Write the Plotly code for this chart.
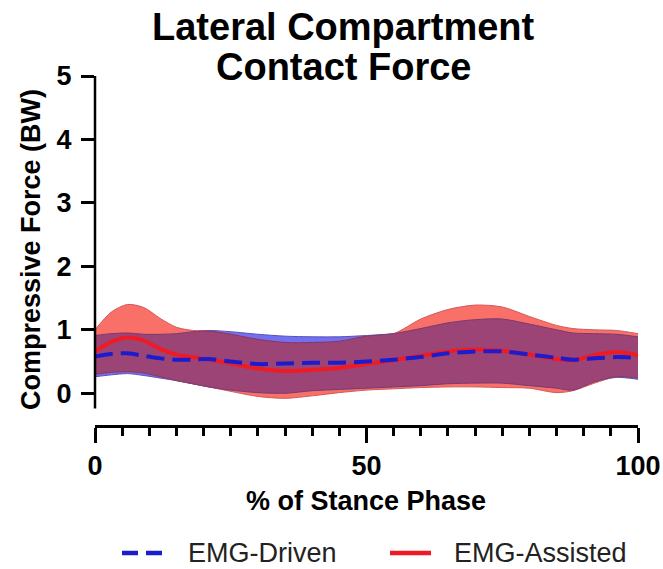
import plotly.graph_objects as go

# % of stance phase
stance = [0, 3, 6, 9, 12, 15, 18, 21, 25, 30, 35, 40, 45, 50,
          55, 60, 65, 70, 75, 80, 85, 88, 92, 96, 100]

# EMG-Driven lateral contact force (BW): mean and ±SD envelope
driven_mean = [0.58, 0.62, 0.63, 0.59, 0.55, 0.53, 0.53, 0.54, 0.50, 0.46, 0.47, 0.48, 0.48, 0.50,
               0.53, 0.57, 0.63, 0.66, 0.66, 0.61, 0.56, 0.53, 0.55, 0.57, 0.56]
driven_upper = [0.91, 0.94, 0.95, 0.93, 0.93, 0.94, 0.97, 0.99, 0.97, 0.93, 0.90, 0.89, 0.89, 0.91,
                0.94, 1.02, 1.11, 1.16, 1.17, 1.09, 1.00, 0.95, 0.94, 0.93, 0.89]
driven_lower = [0.26, 0.29, 0.31, 0.28, 0.24, 0.20, 0.15, 0.10, 0.05, 0.01, 0.00, 0.04, 0.06, 0.08,
                0.10, 0.12, 0.15, 0.16, 0.16, 0.12, 0.08, 0.05, 0.18, 0.25, 0.22]

# EMG-Assisted lateral contact force (BW): mean and ±SD envelope
assisted_mean = [0.66, 0.81, 0.88, 0.83, 0.70, 0.61, 0.57, 0.53, 0.47, 0.39, 0.35, 0.37, 0.40, 0.46,
                 0.52, 0.59, 0.66, 0.69, 0.67, 0.61, 0.54, 0.52, 0.60, 0.65, 0.60]
assisted_upper = [1.00, 1.28, 1.40, 1.35, 1.18, 1.04, 0.99, 0.98, 0.93, 0.85, 0.80, 0.80, 0.82, 0.90,
                  0.94, 1.17, 1.32, 1.39, 1.36, 1.21, 1.07, 1.02, 1.00, 0.99, 0.94]
assisted_lower = [0.30, 0.33, 0.34, 0.32, 0.26, 0.20, 0.15, 0.10, 0.03, -0.05, -0.08, -0.04, 0.01, 0.05,
                  0.07, 0.09, 0.10, 0.10, 0.09, 0.08, 0.01, 0.04, 0.16, 0.26, 0.24]

x_ticks = [0, 50, 100]
y_ticks = [0, 1, 2, 3, 4, 5]

FONT = "Liberation Sans, Arial, sans-serif"
BLUE_FILL = "#7070f0"
RED_FILL = "#f87068"
OVERLAP_FILL = "#9c4476"
BLUE_LINE = "#1c1ccc"
RED_LINE = "#ee1b24"

# region where both envelopes overlap
overlap_upper = [min(a, b) for a, b in zip(driven_upper, assisted_upper)]
overlap_lower = [max(a, b) for a, b in zip(driven_lower, assisted_lower)]

fig = go.Figure()


def band(lower, upper, fill, edge):
    fig.add_trace(go.Scatter(x=stance, y=lower, mode="lines",
                             line=dict(color=edge, width=1, shape="spline", smoothing=0.8),
                             showlegend=False, hoverinfo="skip"))
    fig.add_trace(go.Scatter(x=stance, y=upper, mode="lines", fill="tonexty", fillcolor=fill,
                             line=dict(color=edge, width=1, shape="spline", smoothing=0.8),
                             showlegend=False, hoverinfo="skip"))


band(driven_lower, driven_upper, BLUE_FILL, "#5a50b8")
band(assisted_lower, assisted_upper, RED_FILL, "#d25a5a")
band(overlap_lower, overlap_upper, OVERLAP_FILL, "#7a3a70")

fig.add_trace(go.Scatter(x=stance, y=assisted_mean, mode="lines", name="EMG-Assisted",
                         line=dict(color=RED_LINE, width=4, shape="spline", smoothing=0.8),
                         showlegend=False))
fig.add_trace(go.Scatter(x=stance, y=driven_mean, mode="lines", name="EMG-Driven",
                         line=dict(color=BLUE_LINE, width=4, dash="18px,8px",
                                   shape="spline", smoothing=0.8),
                         showlegend=False))

# plot area in pixels: x 95..638, y 76..425
L, R, T, B = 95, 638, 76, 425


def px(xp):
    return (xp - L) / (R - L)


def py(yp):
    return (B - yp) / (B - T)


annotations = [
    dict(text="<b>Lateral Compartment</b>", x=px(343), y=py(27), xref="paper", yref="paper",
         showarrow=False, xanchor="center", yanchor="middle", font=dict(size=38, color="black")),
    dict(text="<b>Contact Force</b>", x=px(343), y=py(67), xref="paper", yref="paper",
         showarrow=False, xanchor="center", yanchor="middle", font=dict(size=38, color="black")),
    dict(text="<b>Compressive Force (BW)</b>", x=px(31), y=py(250), xref="paper", yref="paper",
         showarrow=False, xanchor="center", yanchor="middle", textangle=-90,
         font=dict(size=27, color="black")),
    dict(text="<b>% of Stance Phase</b>", x=px(366), y=py(501), xref="paper", yref="paper",
         showarrow=False, xanchor="center", yanchor="middle", font=dict(size=27, color="black")),
    dict(text="EMG-Driven", x=px(186), y=py(553), xref="paper", yref="paper",
         showarrow=False, xanchor="left", yanchor="middle", font=dict(size=27, color="#222")),
    dict(text="EMG-Assisted", x=px(452), y=py(553), xref="paper", yref="paper",
         showarrow=False, xanchor="left", yanchor="middle", font=dict(size=27, color="#222")),
]

shapes = [
    # y axis line (stops short of the x axis)
    dict(type="line", xref="paper", yref="y", x0=0, x1=0, y0=-0.24, y1=5,
         line=dict(color="black", width=2.5)),
    # legend samples
    dict(type="line", xref="paper", yref="paper", x0=px(122), x1=px(162), y0=py(553), y1=py(553),
         line=dict(color=BLUE_LINE, width=4.5, dash="16px,8px")),
    dict(type="line", xref="paper", yref="paper", x0=px(390), x1=px(431), y0=py(553), y1=py(553),
         line=dict(color=RED_LINE, width=4.5)),
]

fig.update_layout(
    width=663, height=569, autosize=False,
    margin=dict(l=L, r=663 - R, t=T, b=569 - B),
    paper_bgcolor="white", plot_bgcolor="white",
    font=dict(family=FONT, color="black"),
    annotations=annotations, shapes=shapes,
    showlegend=False,
)

fig.update_xaxes(
    range=[0, 100], tickvals=x_ticks, ticktext=[f"<b>{v}</b>" for v in x_ticks],
    showline=True, linecolor="black", linewidth=2.5,
    ticks="outside", ticklen=15, tickwidth=2.5, tickcolor="black",
    minor=dict(dtick=5, ticks="outside", ticklen=8, tickwidth=2.5, tickcolor="black", showgrid=False),
    showgrid=False, zeroline=False, tickfont=dict(size=27), ticklabelstandoff=0,
    automargin=False,
)
fig.update_yaxes(
    range=[-0.5, 5], tickvals=y_ticks, ticktext=[f"<b>{v}</b>" for v in y_ticks],
    showline=False, ticks="outside", ticklen=13, tickwidth=2.5, tickcolor="black",
    showgrid=False, zeroline=False, tickfont=dict(size=27), ticklabelstandoff=4,
    automargin=False,
)

fig.write_html("out.html")
